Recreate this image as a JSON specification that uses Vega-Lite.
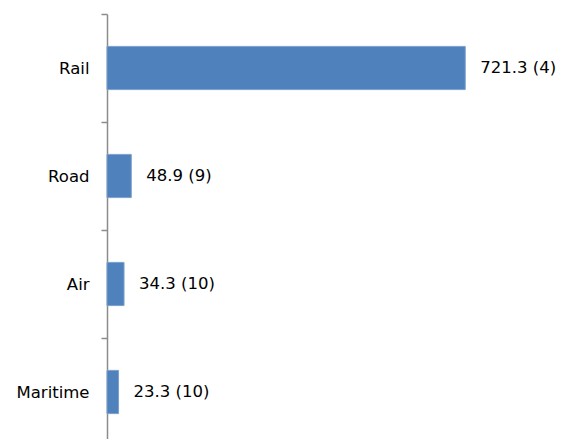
{
  "$schema": "https://vega.github.io/schema/vega-lite/v6.json",
  "autosize": {"type": "none"},
  "padding": {"left": 107, "top": 14, "right": 12, "bottom": 0},
  "width": 447,
  "height": 432,
  "background": "white",
  "data": {"values": [
    {"mode": "Rail", "value": 721.3, "label": "721.3 (4)"},
    {"mode": "Road", "value": 48.9, "label": "48.9 (9)"},
    {"mode": "Air", "value": 34.3, "label": "34.3 (10)"},
    {"mode": "Maritime", "value": 23.3, "label": "23.3 (10)"}
  ]},
  "config": {"view": {"stroke": null}, "font": "DejaVu Sans"},
  "encoding": {
    "y": {"field": "mode", "type": "nominal", "sort": null,
      "scale": {"paddingInner": 0.6, "paddingOuter": 0.3},
      "axis": {"title": null, "labelFontSize": 16.5, "labelColor": "#000", "labelFont": "DejaVu Sans",
        "tickOffset": -54, "labelOffset": 54, "tickSize": 6, "tickColor": "#8c8c8c", "tickWidth": 1.5,
        "domainColor": "#8c8c8c", "domainWidth": 1.5, "labelPadding": 12, "grid": false}},
    "x": {"field": "value", "type": "quantitative", "scale": {"domain": [0, 900]}, "axis": null}
  },
  "layer": [
    {"mark": {"type": "bar", "color": "#4f81bd", "stroke": "#7ba0cd", "strokeWidth": 1}},
    {"mark": {"type": "text", "align": "left", "dx": 15, "fontSize": 16.5, "color": "#000", "font": "DejaVu Sans"},
     "encoding": {"text": {"field": "label"}}}
  ]
}
